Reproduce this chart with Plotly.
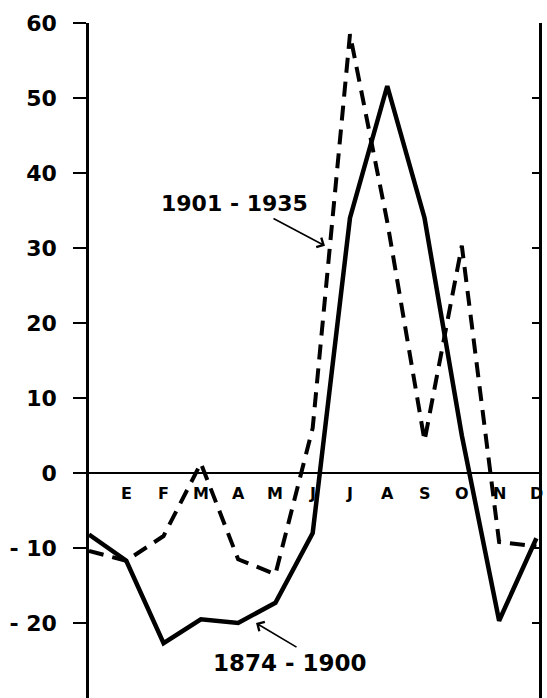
import plotly.graph_objects as go

# Month positions: 0 = previous December, 1..12 = E..D
month_pos = list(range(13))
month_labels = ["E", "F", "M", "A", "M", "J", "J", "A", "S", "O", "N", "D"]

# Series
s_1874_1900 = [-8.2, -11.7, -22.7, -19.5, -20.0, -17.3, -8.0, 34.0, 51.6, 34.0, 5.0, -19.7, -8.7]
s_1901_1935 = [-10.4, -11.7, -8.4, 1.3, -11.5, -13.5, 6.0, 58.5, 33.5, 4.3, 30.3, -9.2, -9.8]

ytick_vals = [-20, -10, 0, 10, 20, 30, 40, 50, 60]
ytick_text = ["- 20", "- 10", "0", "10", "20", "30", "40", "50", "60"]
right_tick_vals = [-20, -10, 0, 10, 20, 30, 40, 50]

FONT = "DejaVu Sans"

fig = go.Figure()
fig.add_trace(go.Scatter(
    x=month_pos, y=s_1874_1900, mode="lines", name="1874 - 1900",
    line=dict(color="black", width=4.5), showlegend=False, yaxis="y"))
fig.add_trace(go.Scatter(
    x=month_pos, y=s_1901_1935, mode="lines", name="1901 - 1935",
    line=dict(color="black", width=4, dash="15px,9px"), showlegend=False, yaxis="y2"))

annotations = []
for m, lab in zip(month_pos[1:], month_labels):
    annotations.append(dict(x=m, y=0, xref="x", yref="y", text=lab, showarrow=False,
                            yanchor="top", yshift=-9,
                            font=dict(family=FONT, size=16, color="black", weight="bold")))

annotations += [
    dict(x=3.89, y=35.9, xref="x", yref="y", text="1901 - 1935", showarrow=False,
         font=dict(family=FONT, size=22, color="black", weight="bold")),
    dict(x=6.33, y=30.3, xref="x", yref="y", text="", showarrow=True,
         ax=-53, ay=-28, arrowhead=4, arrowsize=1.3, arrowwidth=1.6, arrowcolor="black"),
    dict(x=5.39, y=-25.3, xref="x", yref="y", text="1874 - 1900", showarrow=False,
         font=dict(family=FONT, size=23, color="black", weight="bold")),
    dict(x=4.48, y=-20.0, xref="x", yref="y", text="", showarrow=True,
         ax=42, ay=25, arrowhead=4, arrowsize=1.3, arrowwidth=1.6, arrowcolor="black"),
]

fig.update_layout(
    width=547, height=698,
    margin=dict(l=89, r=8, t=23, b=0, pad=0),
    paper_bgcolor="white", plot_bgcolor="white",
    xaxis=dict(range=[0, 12.07], visible=False, showgrid=False, zeroline=False),
    yaxis=dict(range=[-30, 60], showgrid=False, zeroline=True, zerolinecolor="black",
               zerolinewidth=2, showline=True, linecolor="black", linewidth=2.5,
               ticks="outside", ticklen=13, tickwidth=2, tickcolor="black",
               tickvals=ytick_vals, ticktext=ytick_text, ticklabelstandoff=12,
               tickfont=dict(family=FONT, size=22, color="black", weight="bold")),
    yaxis2=dict(range=[-30, 60], overlaying="y", side="right", anchor="x",
                showgrid=False, zeroline=False, showline=True, linecolor="black",
                linewidth=2.5, ticks="inside", ticklen=7, tickwidth=2, tickcolor="black",
                tickvals=right_tick_vals, showticklabels=False),
    annotations=annotations,
)

fig.write_html(
    "out.html",
    config={"displayModeBar": False},
    post_script="document.body.style.margin='0';document.body.style.overflow='hidden';",
)
